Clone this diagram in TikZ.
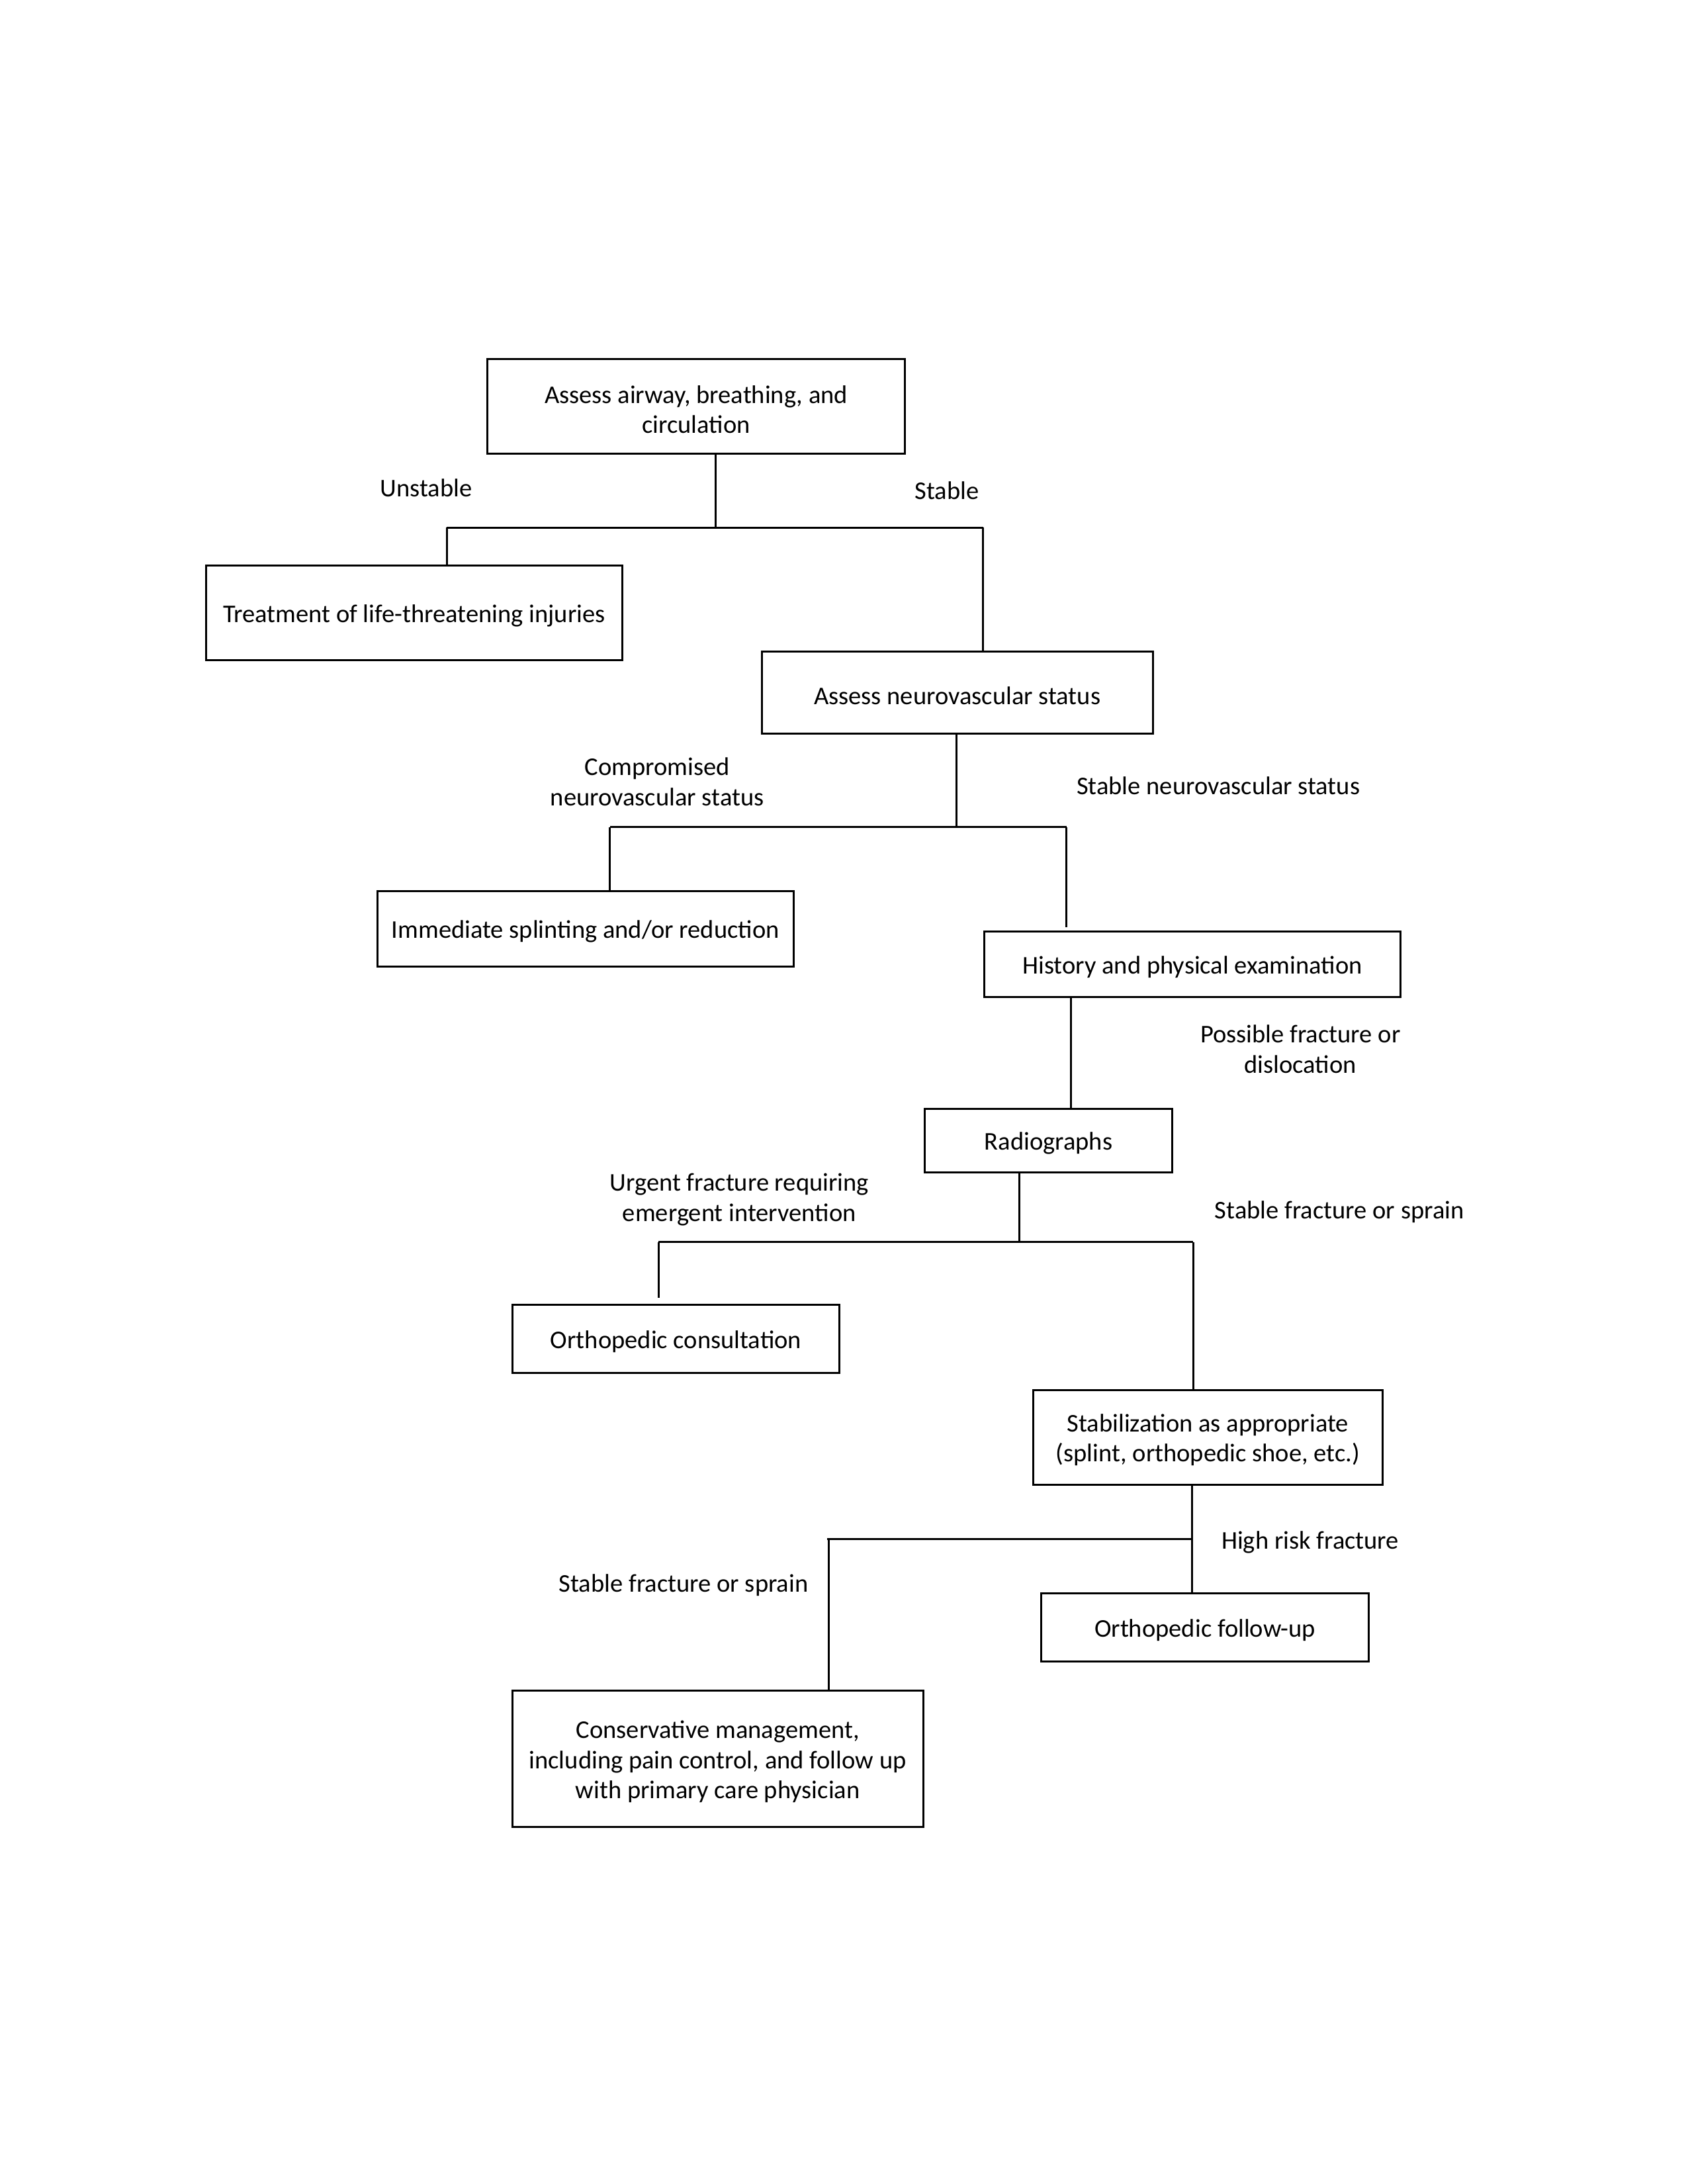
\documentclass[tikz,border=0pt]{standalone}
\usepackage{fontspec}
\setmainfont{Carlito}
\begin{document}
\begin{tikzpicture}[x=0.505pt,y=-0.505pt,
  txt/.style={font=\fontsize{9.25}{10.9}\selectfont},
  box/.style={draw, line width=0.72pt, inner sep=0pt},
  boxtxt/.style={txt, inner sep=0pt, align=center, yshift=-1pt},
  lbl/.style={txt, inner sep=0pt, align=center, yshift=-0.7pt},
  conn/.style={line width=0.72pt}]
\useasboundingbox (0,0) rectangle (1211.9,1568.3);
% boxes
\node[box, minimum width=151.5pt, minimum height=34.3pt, label={[boxtxt]center:{Assess airway, breathing, and\\circulation}}] (b1) at (500,292) {};
\node[box, minimum width=151pt, minimum height=34.3pt, label={[boxtxt]center:{Treatment of life-threatening injuries}}] (b2) at (297.5,440) {};
\node[box, minimum width=141.9pt, minimum height=29.8pt, label={[boxtxt]center:{Assess neurovascular status}}] (b3) at (687.5,497.5) {};
\node[box, minimum width=151pt, minimum height=27.3pt, label={[boxtxt]center:{Immediate splinting and/or reduction}}] (b4) at (420.5,667) {};
\node[box, minimum width=151pt, minimum height=23.7pt, label={[boxtxt]center:{History and physical examination}}] (b5) at (856.5,692.5) {};
\node[box, minimum width=89.9pt, minimum height=23.2pt, label={[boxtxt]center:{Radiographs}}] (b6) at (753,819) {};
\node[box, minimum width=118.7pt, minimum height=24.7pt, label={[boxtxt]center:{Orthopedic consultation}}] (b7) at (485.5,961.5) {};
\node[box, minimum width=126.8pt, minimum height=34.3pt, label={[boxtxt]center:{Stabilization as appropriate\\(splint, orthopedic shoe, etc.)}}] (b8) at (867.5,1032) {};
\node[box, minimum width=118.7pt, minimum height=24.7pt, label={[boxtxt]center:{Orthopedic follow-up}}] (b9) at (865.5,1168.5) {};
\node[box, minimum width=149pt, minimum height=49.5pt, label={[boxtxt]center:{Conservative management,\\including pain control, and follow up\\with primary care physician}}] (b10) at (515.5,1263) {};
% labels
\node[lbl] (l1) at (306,349) {Unstable};
\node[lbl] (l2) at (680,351) {Stable};
\node[lbl] (l3) at (472,560) {Compromised\\neurovascular status};
\node[lbl] (l4) at (875,563) {Stable neurovascular status};
\node[lbl] (l5) at (934,752) {Possible fracture or\\dislocation};
\node[lbl] (l6) at (531,860) {Urgent fracture requiring\\emergent intervention};
\node[lbl] (l7) at (962,869) {Stable fracture or sprain};
\node[lbl] (l8) at (941,1106) {High risk fracture};
\node[lbl] (l9) at (491,1137) {Stable fracture or sprain};
% junction coordinates
\coordinate (j1) at (514,379);
\coordinate (h1l) at (321,379);
\coordinate (h1r) at (706,379);
\coordinate (j2) at (687,594);
\coordinate (h2l) at (438,594);
\coordinate (h2r) at (766,594);
\coordinate (e2r) at (766,666);
\coordinate (s3) at (769,0);
\coordinate (j4) at (732,892);
\coordinate (h4l) at (473,892);
\coordinate (h4r) at (857,892);
\coordinate (e4l) at (473,932);
\coordinate (s5) at (856,0);
\coordinate (h5l) at (594,1105);
\coordinate (h5r) at (856,1105);
\coordinate (d5l) at (595,1105);
% connectors
\draw[conn] (b1.south -| j1) -- (j1);
\draw[conn] (h1l) -- (h1r);
\draw[conn] (h1l) -- (h1l |- b2.north);
\draw[conn] (h1r) -- (h1r |- b3.north);
\draw[conn] (b3.south -| j2) -- (j2);
\draw[conn] (h2l) -- (h2r);
\draw[conn] (h2l) -- (h2l |- b4.north);
\draw[conn] (h2r) -- (e2r);
\draw[conn] (b5.south -| s3) -- (b6.north -| s3);
\draw[conn] (b6.south -| j4) -- (j4);
\draw[conn] (h4l) -- (h4r);
\draw[conn] (h4l) -- (e4l);
\draw[conn] (h4r) -- (h4r |- b8.north);
\draw[conn] (b8.south -| s5) -- (b9.north -| s5);
\draw[conn] (h5l) -- (h5r);
\draw[conn] (d5l) -- (d5l |- b10.north);
\end{tikzpicture}
\end{document}
